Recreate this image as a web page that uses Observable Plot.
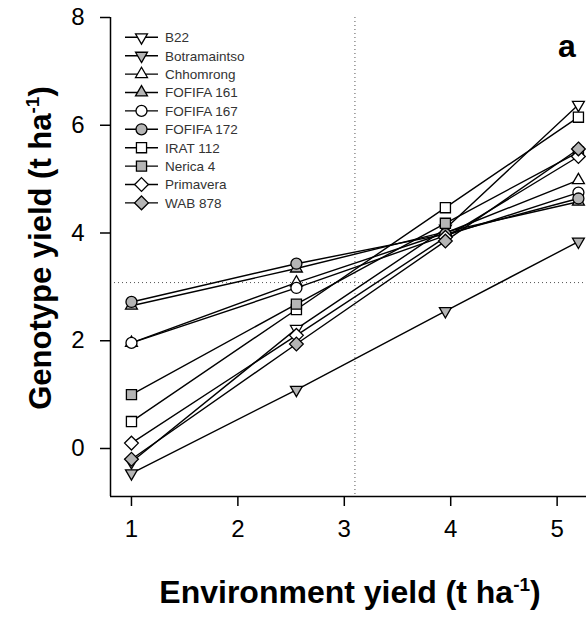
<!DOCTYPE html>
<html><head><meta charset="utf-8">
<script src="https://cdn.jsdelivr.net/npm/d3@7"></script>
<script src="https://cdn.jsdelivr.net/npm/@observablehq/plot@0.6"></script>
<style>
body{margin:0;background:#fff}
#chart{width:586px;height:617px}
</style>
</head><body><div id="chart"></div>
<script>
// ---- data ----
const envYield = [1.0, 2.55, 3.95, 5.2];
const genotypes = ["B22","Botramaintso","Chhomrong","FOFIFA 161","FOFIFA 167","FOFIFA 172","IRAT 112","Nerica 4","Primavera","WAB 878"];
const yB22          = [-0.25, 2.22, 4.08, 6.38];
const yBotramaintso = [-0.46, 1.09, 2.55, 3.84];
const yChhomrong    = [1.96, 3.08, 4.00, 4.98];
const yFofifa161    = [2.65, 3.34, 4.02, 4.58];
const yFofifa167    = [1.96, 2.98, 3.95, 4.75];
const yFofifa172    = [2.72, 3.43, 3.98, 4.64];
const yIrat112      = [0.50, 2.58, 4.47, 6.15];
const yNerica4      = [1.00, 2.68, 4.18, 5.50];
const yPrimavera    = [0.10, 2.10, 3.92, 5.42];
const yWab878       = [-0.20, 1.94, 3.85, 5.56];
const seriesValues = [yB22,yBotramaintso,yChhomrong,yFofifa161,yFofifa167,yFofifa172,yIrat112,yNerica4,yPrimavera,yWab878];
const xTicks = [1,2,3,4,5];
const yTicks = [0,2,4,6,8];
const meanEnv = 3.1;
const meanGen = 3.08;

// ---- styles ----
const GRAY = "#b5b5b5";
const shapeOf = ["triDown","triDown","triUp","triUp","circle","circle","square","square","diamond","diamond"];
const fillOf  = ["white",GRAY,"white",GRAY,"white",GRAY,"white",GRAY,"white",GRAY];

const symbols = {
  circle: {draw(c, s){const r=Math.sqrt(s/Math.PI); c.moveTo(r,0); c.arc(0,0,r,0,2*Math.PI); c.closePath();}},
  square: {draw(c, s){const r=Math.sqrt(s/Math.PI)*0.92; c.moveTo(-r,-r); c.lineTo(r,-r); c.lineTo(r,r); c.lineTo(-r,r); c.closePath();}},
  triUp:  {draw(c, s){const R=Math.sqrt(s/Math.PI)*1.25; c.moveTo(0,-R); c.lineTo(R*0.866,R*0.5); c.lineTo(-R*0.866,R*0.5); c.closePath();}},
  triDown:{draw(c, s){const R=Math.sqrt(s/Math.PI)*1.25; c.moveTo(0,R); c.lineTo(R*0.866,-R*0.5); c.lineTo(-R*0.866,-R*0.5); c.closePath();}},
  diamond:{draw(c, s){const R=Math.sqrt(s/Math.PI)*1.25; c.moveTo(0,-R); c.lineTo(R,0); c.lineTo(0,R); c.lineTo(-R,0); c.closePath();}}
};

const rows = genotypes.flatMap((g,i)=> envYield.map((x,j)=>({genotype:g, x, y: seriesValues[i][j]})));

const xDomain = [0.803, 5.276];
const yDomain = [-0.891, 8];
const FONT = "'Liberation Sans', Arial, sans-serif";
const R = 5.5;

const marks = [
  Plot.ruleX([meanEnv], {stroke:"#555", strokeDasharray:"1,3", strokeWidth:1}),
  Plot.ruleY([meanGen], {stroke:"#555", strokeDasharray:"1,3", strokeWidth:1}),
  Plot.ruleX([xDomain[0]], {stroke:"black", strokeWidth:1.5}),
  Plot.ruleY([yDomain[0]], {stroke:"black", strokeWidth:1.5}),
  Plot.line(rows, {x:"x", y:"y", z:"genotype", stroke:"black", strokeWidth:1.4})
];
genotypes.forEach((g,i)=>{
  marks.push(Plot.dot(rows.filter(d=>d.genotype===g), {x:"x", y:"y", r:R, symbol: symbols[shapeOf[i]], fill: fillOf[i], stroke:"black", strokeWidth:1.3}));
});

const plot = Plot.plot({
  width: 586, height: 617,
  marginLeft: 110, marginTop: 17, marginBottom: 121, marginRight: 0,
  style: {fontFamily: FONT, fontSize: "24px", background: "white", color: "black", overflow: "visible"},
  x: {domain: xDomain, ticks: xTicks, tickSize: 10, tickPadding: 13, label: null, tickFormat: d3.format("d")},
  y: {domain: yDomain, ticks: yTicks, tickSize: 10, tickPadding: 16, label: null, tickFormat: d3.format("d")},
  marks
});
document.getElementById("chart").appendChild(plot);

const svg = d3.select(plot);
svg.selectAll("[aria-label='x-axis tick'], [aria-label='y-axis tick']").attr("stroke-width", 1.5);

// ---- legend ----
const lg = svg.append("g").attr("font-family", FONT).attr("font-size", "13.5px").attr("text-anchor","start");
const lgY0 = 37.3, lgDy = 18.4;
genotypes.forEach((g,i)=>{
  const y = lgY0 + i*lgDy;
  lg.append("line").attr("x1",125).attr("x2",158).attr("y1",y).attr("y2",y).attr("stroke","black").attr("stroke-width",1.4);
  lg.append("path").attr("transform",`translate(141.5,${y})`)
    .attr("d", d3.symbol(symbols[shapeOf[i]], R*R*Math.PI)())
    .attr("fill", fillOf[i]).attr("stroke","black").attr("stroke-width",1.3);
  lg.append("text").attr("x",165).attr("y",y).attr("dy","0.36em").attr("text-anchor","start").attr("fill","#333").text(g);
});

// ---- titles ----
const xt = svg.append("text").attr("x",350).attr("y",603).attr("text-anchor","middle")
  .attr("font-family",FONT).attr("font-weight","bold").attr("font-size","32px");
xt.append("tspan").text("Environment yield (t ha");
xt.append("tspan").attr("font-size","19px").attr("dy","-12").text("-1");
xt.append("tspan").attr("dy","12").text(")");

const yt = svg.append("text").attr("transform","translate(51,248) rotate(-90)").attr("text-anchor","middle")
  .attr("font-family",FONT).attr("font-weight","bold").attr("font-size","31px");
yt.append("tspan").text("Genotype yield (t ha");
yt.append("tspan").attr("font-size","19px").attr("dy","-12").text("-1");
yt.append("tspan").attr("dy","12").text(")");

svg.append("text").attr("x",558).attr("y",57).attr("text-anchor","start").attr("font-family",FONT).attr("font-weight","bold").attr("font-size","32px").text("a");
</script>
</body></html>
